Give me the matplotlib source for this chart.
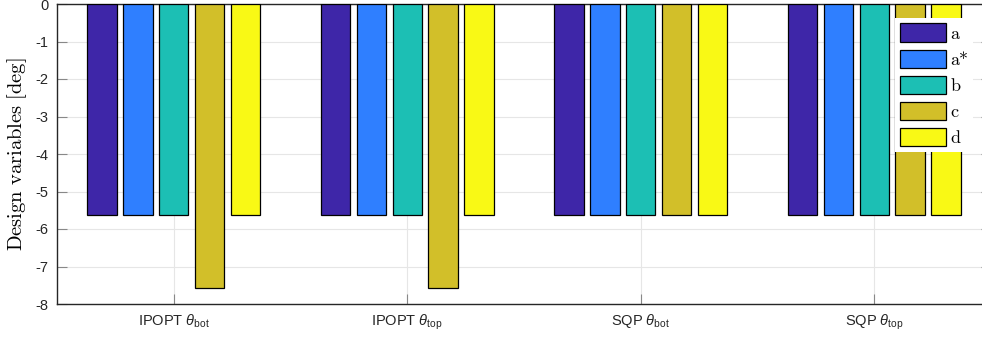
import numpy as np
import matplotlib
matplotlib.use("Agg")
import matplotlib.pyplot as plt
from matplotlib.font_manager import FontProperties

# Data.
groups = [r"IPOPT $\theta_{\mathrm{bot}}$", r"IPOPT $\theta_{\mathrm{top}}$",
          r"SQP $\theta_{\mathrm{bot}}$", r"SQP $\theta_{\mathrm{top}}$"]
series = ["a", "a*", "b", "c", "d"]
val_a = [-5.63, -5.63, -5.63, -5.63]
val_astar = [-5.63, -5.63, -5.63, -5.63]
val_b = [-5.63, -5.63, -5.63, -5.63]
val_c = [-7.58, -7.58, -5.63, -5.63]
val_d = [-5.63, -5.63, -5.63, -5.63]
colors = ["#3E26A8", "#2F7FFF", "#1CBFB4", "#D2BF29", "#F9F915"]

plt.rcParams["font.family"] = ["Liberation Sans", "DejaVu Sans"]
plt.rcParams["mathtext.fontset"] = "custom"
plt.rcParams["mathtext.rm"] = "Liberation Sans"
plt.rcParams["mathtext.it"] = "Liberation Sans:italic"

fig = plt.figure(figsize=(9.82, 3.44), dpi=100)
ax = fig.add_axes([57 / 982, 40 / 344, 934 / 982, 300 / 344])

x = np.arange(1, len(groups) + 1)
step = 0.154
width = 0.126
data = [val_a, val_astar, val_b, val_c, val_d]
for i, (vals, col, name) in enumerate(zip(data, colors, series)):
    ax.bar(x + (i - 2) * step, vals, width, color=col, edgecolor="black",
           linewidth=0.9, label=name, zorder=3)

ax.set_xlim(0.5, 4.5)
ax.set_ylim(-8, 0)
ax.set_xticks(x)
ax.set_xticklabels(groups, fontsize=10.5)
ax.set_yticks(np.arange(-8, 1, 1))
ax.set_yticklabels([str(v) for v in range(-8, 1)], fontsize=10.5)
ax.grid(True, color="#e6e6e6", linewidth=0.8, zorder=0)
ax.set_axisbelow(True)
ax.tick_params(direction="in", length=7, color="#888888", top=True, right=True,
               labelcolor="#262626", pad=6)
for s in ax.spines.values():
    s.set_color("#262626")
    s.set_linewidth(1.0)

ax.set_ylabel(r"$\mathrm{Design\ variables\ [deg]}$", fontsize=14.8,
              math_fontfamily="cm")
ax.yaxis.set_label_coords(-28 / 934, 0.5)

leg = ax.legend(loc="upper left", bbox_to_anchor=(895 / 982, 1 - 18 / 344),
                bbox_transform=fig.transFigure, prop=FontProperties(family="cmr10", size=13),
                handlelength=2.55, handleheight=1.2, handletextpad=0.2,
                labelspacing=0.42, borderpad=0.3, borderaxespad=0,
                fancybox=False, framealpha=1)
leg.get_frame().set_edgecolor("white")
leg.get_frame().set_linewidth(0)

fig.savefig("out.png", dpi=100)
